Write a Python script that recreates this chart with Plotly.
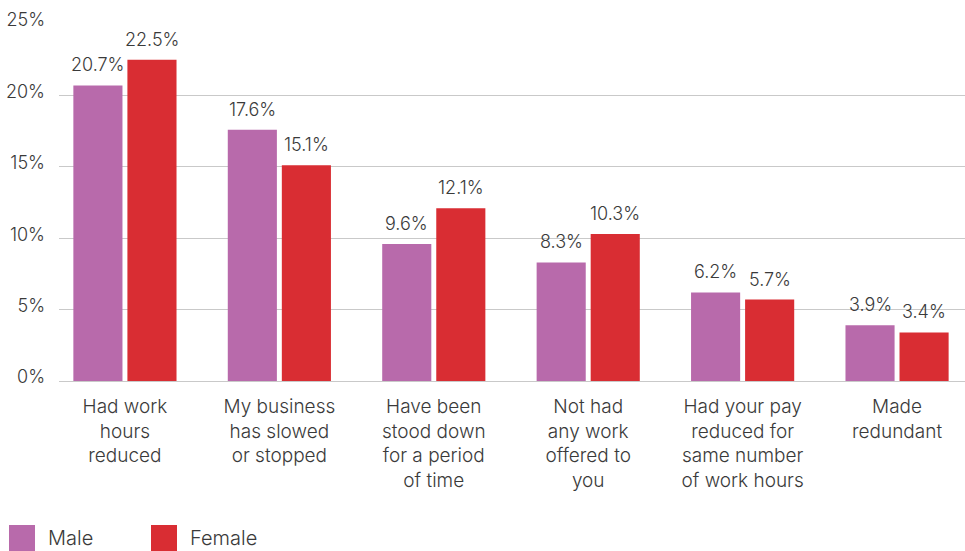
import plotly.graph_objects as go

# Survey results: share of respondents affected, by gender
categories = [
    "Had work<br>hours<br>reduced",
    "My business<br>has slowed<br>or stopped",
    "Have been<br>stood down<br>for a period<br>of time",
    "Not had<br>any work<br>offered to<br>you",
    "Had your pay<br>reduced for<br>same number<br>of work hours",
    "Made<br>redundant",
]
male = [20.7, 17.6, 9.6, 8.3, 6.2, 3.9]
female = [22.5, 15.1, 12.1, 10.3, 5.7, 3.4]
series_names = ["Male", "Female"]
y_ticks = [0, 5, 10, 15, 20, 25]

MALE_COLOR = "#B86AAB"
FEMALE_COLOR = "#D92D33"
TEXT_COLOR = "#3a3a3a"
FONT = "Inter, Lato, sans-serif"
WEIGHT = 300

BAR_W = 0.318
x = list(range(len(categories)))

fig = go.Figure()
for name, vals, color, offset in [
    (series_names[0], male, MALE_COLOR, -0.334),
    (series_names[1], female, FEMALE_COLOR, 0.016),
]:
    fig.add_trace(go.Bar(
        x=x, y=vals, name=name,
        marker=dict(color=color, line=dict(width=0)),
        width=BAR_W, offset=offset,
        showlegend=False,
    ))
    # value labels above each bar
    for xi, v in zip(x, vals):
        fig.add_annotation(
            x=xi + offset + BAR_W / 2, y=v, xref="x", yref="y",
            text=f"{v:.1f}%", showarrow=False,
            yanchor="bottom", yshift=8,
            font=dict(size=18, color=TEXT_COLOR, family=FONT, weight=WEIGHT),
        )

fig.update_layout(
    width=965, height=551,
    margin=dict(l=59, r=0, t=24, b=170),
    paper_bgcolor="white", plot_bgcolor="white",
    font=dict(family=FONT, color=TEXT_COLOR, weight=WEIGHT),
    barmode="overlay",
    xaxis=dict(
        range=[-0.427, 5.44],
        tickmode="array", tickvals=x, ticktext=categories,
        tickfont=dict(size=19, color=TEXT_COLOR, weight=WEIGHT),
        showgrid=False, showline=False, ticks="",
        ticklabelstandoff=12,
    ),
    yaxis=dict(
        range=[0, 25],
        tickmode="array", tickvals=y_ticks,
        ticktext=[f"{t}%" for t in y_ticks],
        tickfont=dict(size=18, color=TEXT_COLOR, weight=WEIGHT),
        showgrid=True, gridcolor="#c9c9c9", gridwidth=1,
        zeroline=True, zerolinecolor="#c9c9c9", zerolinewidth=1,
        showline=False, ticks="",
        ticklabelstandoff=13, ticklabelshift=-4,
    ),
)

# Legend drawn as swatches with labels along the bottom edge
legend_items = [(series_names[0], MALE_COLOR, 9), (series_names[1], FEMALE_COLOR, 151)]
for name, color, px in legend_items:
    fig.add_shape(
        type="rect", xref="paper", yref="paper",
        x0=(px - 59) / 906, x1=(px + 26 - 59) / 906,
        y0=(381 - 551) / 357, y1=(381 - 525) / 357,
        fillcolor=color, line=dict(width=0),
    )
    fig.add_annotation(
        xref="paper", yref="paper",
        x=(px + 37 - 59) / 906, y=(381 - 538) / 357,
        text=name, showarrow=False, xanchor="left", yanchor="middle",
        font=dict(size=20, color=TEXT_COLOR, family=FONT, weight=WEIGHT),
    )

fig.write_html("out.html")
